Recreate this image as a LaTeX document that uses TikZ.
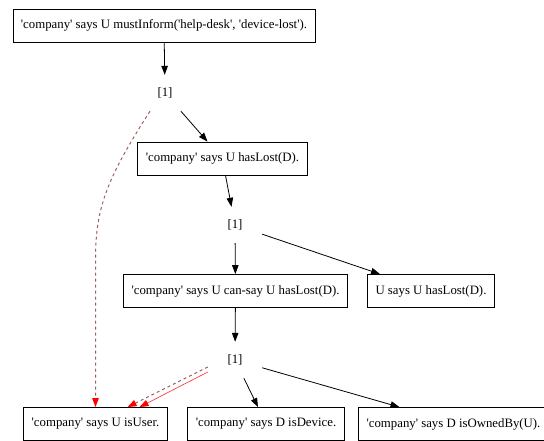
\documentclass[tikz,border=0pt]{standalone}
\usepackage{fontspec}
\setmainfont{Liberation Serif}[Ligatures=TeXOff]
\usetikzlibrary{arrows.meta}
\newcommand{\goalfont}{\fontsize{12.8}{15}\selectfont}
\tikzset{
  goal/.style={draw, line width=0.8pt, minimum height=33pt, inner xsep=8pt, font=\goalfont},
  rulenode/.style={minimum width=54pt, minimum height=36pt, inner sep=0pt, font=\goalfont},
  edge/.style={-{Triangle[length=9pt,width=6.5pt]}, line width=0.8pt},
  redge/.style={line width=0.7pt, draw=red!75, -{Triangle[length=9pt,width=6.5pt,red]}},
  dedge/.style={line width=1pt, draw=red!25!gray, dashed, -{Triangle[length=9pt,width=6.5pt,red]}}
}
\begin{document}
\begin{tikzpicture}[x=1pt,y=-1pt]
\useasboundingbox (0,0) rectangle (544,441);
% goals
\node[goal] (top) at (164,25.5) {'company' says U mustInform('help-desk', 'device-lost').};
\node[goal] (lost) at (222.5,158.5) {'company' says U hasLost(D).};
\node[goal] (cansay) at (235.5,291) {'company' says U can-say U hasLost(D).};
\node[goal] (usays) at (431,291) {U says U hasLost(D).};
\node[goal] (isuser) at (95.5,424) {'company' says U isUser.};
\node[goal] (isdev) at (266,424) {'company' says D isDevice.};
\node[goal] (owned) at (453.5,424) {'company' says D isOwnedBy(U).};
% rules
\node[rulenode] (ra) at (165,93) {[1]};
\node[rulenode] (rb) at (235,225) {[1]};
\node[rulenode] (rc) at (235,360) {[1]};
% edges
\draw[edge] (top) -- (ra);
\draw[edge] (ra) -- ([xshift=-15pt]lost.north);
\draw[edge] ([xshift=3pt]lost.south) -- (rb);
\draw[edge] (rb) -- (cansay);
\draw[edge] (rb) -- ([xshift=-51pt]usays.north);
\draw[edge] (cansay) -- (rc);
\draw[edge] (rc) -- ([xshift=-8pt]isdev.north);
\draw[edge] (rc) -- ([xshift=-54pt]owned.north);
\draw[dedge] ([xshift=-15pt]ra.south) .. controls +(-45,70) and +(0,-50) .. (isuser.north |- 0,260) -- (isuser.north);
\draw[dedge] ([yshift=-7pt]rc.west) -- ([xshift=32pt]isuser.north);
\draw[redge] ([yshift=-12pt]rc.west) -- ([xshift=44pt]isuser.north);
\end{tikzpicture}
\end{document}
